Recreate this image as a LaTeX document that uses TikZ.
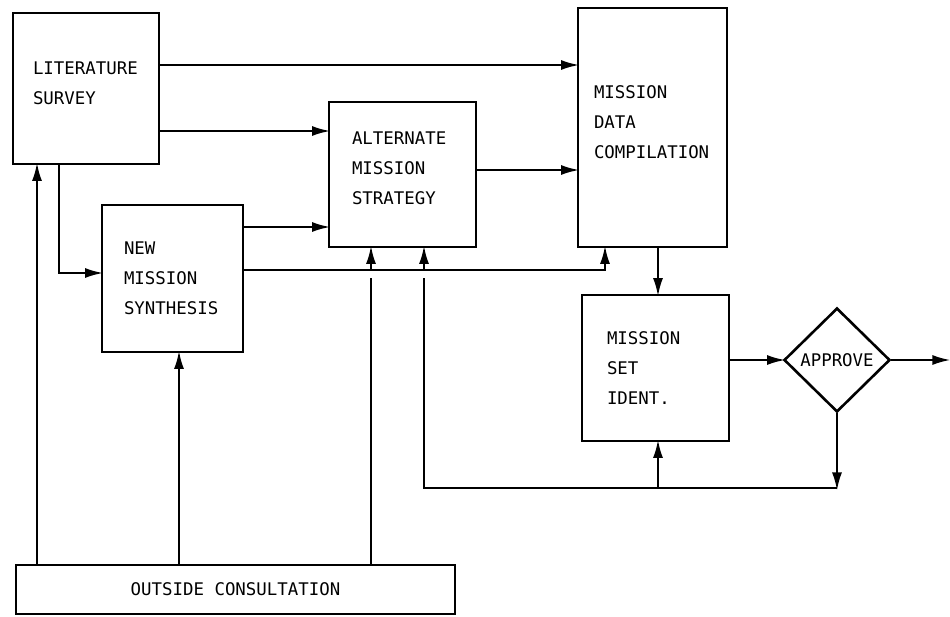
\documentclass[tikz,border=0pt]{standalone}
\usepackage{fontspec}
\setmonofont{DejaVu Sans Mono}
\usepackage{tikz}
\usetikzlibrary{arrows.meta}
\usetikzlibrary{shapes.geometric}
\tikzset{>={Latex[length=9pt,width=5pt]}}
\newcommand{\lift}[1]{\rule[-#1]{0pt}{#1}}

\begin{document}
\begin{tikzpicture}[x=0.5pt, y=-0.5pt, line width=1pt,
    box/.style={draw, line width=1.3pt, align=left, inner ysep=0pt,
      font=\ttfamily\fontsize{8.7}{15}\selectfont},
    decide/.style={draw, diamond, aspect=1, inner sep=0pt, line width=1.3pt,
      font=\ttfamily\fontsize{8.7}{15}\selectfont},
    flow/.style={->, shorten >=-1.2pt}]
  \useasboundingbox (0,0) rectangle (950,617);

  % boxes
  \node[box, minimum width=73pt, minimum height=75.5pt, inner xsep=10pt, text width=53pt]
    (lit) at (86,88.5) {LITERATURE\\SURVEY\lift{5pt}};
  \node[box, minimum width=70.5pt, minimum height=73.5pt, inner xsep=11pt, text width=48.5pt]
    (newsyn) at (172.5,278.5) {NEW\\MISSION\\SYNTHESIS};
  \node[box, minimum width=73.5pt, minimum height=72.5pt, inner xsep=11.5pt, text width=50.5pt]
    (alt) at (402.5,174.5) {ALTERNATE\\MISSION\\STRATEGY\lift{6.5pt}};
  \node[box, minimum width=74.5pt, minimum height=119.5pt, inner xsep=8pt, text width=58.5pt]
    (mdc) at (652.5,127.5) {MISSION\\DATA\\COMPILATION\lift{5.5pt}};
  \node[box, minimum width=73.5pt, minimum height=73pt, inner xsep=12.5pt, text width=48.5pt]
    (msi) at (655.5,368) {MISSION\\SET\\IDENT.};
  \node[decide, minimum width=53pt, minimum height=52pt] (approve) at (837,360) {APPROVE};
  \node[box, align=center, minimum width=219.5pt, minimum height=24.5pt]
    (outside) at (235.5,589.5) {OUTSIDE CONSULTATION};

  % flow between boxes
  \draw[flow] (lit.east |- 0,65) -- (mdc.west |- 0,65);
  \draw[flow] (lit.east |- 0,131) -- (alt.west |- 0,131);
  \draw[flow] (newsyn.east |- 0,227) -- (alt.west |- 0,227);
  \draw[flow] (alt.east |- 0,170) -- (mdc.west |- 0,170);
  \draw[flow] (lit.south -| 59,0) |- (newsyn.west |- 0,273);
  \draw[flow] (outside.north -| 37,0) -- (lit.south -| 37,0);
  \draw[flow] (outside.north -| 179,0) -- (newsyn.south -| 179,0);

  \coordinate (bus) at (0,270);
  \coordinate (hopA) at (371,270);
  \coordinate (hopB) at (424,270);
  \draw[flow] (newsyn.east |- bus) -| (mdc.south -| 605,0);
  \draw (outside.north -| hopA) -- ([yshift=-4pt]hopA);
  \draw[flow] (hopA) -- (alt.south -| hopA);

  \draw[flow] (mdc.south -| 658,0) -- (msi.north -| 658,0);
  \draw[flow] (msi.east |- approve.west) -- (approve.west);
  \coordinate (out) at (948,360);
  \draw[flow] (approve.east) -- (out);

  % feedback loop
  \coordinate (loopR) at (approve.south |- 0,488);
  \coordinate (loopL) at (424,488);
  \draw[flow] (approve.south) -- (loopR);
  \draw (loopR) -- (loopL) -- ([yshift=-4pt]hopB);
  \draw[flow] (hopB) -- (alt.south -| hopB);
  \draw[flow] (loopL -| 658,0) -- (msi.south -| 658,0);
\end{tikzpicture}
\end{document}
